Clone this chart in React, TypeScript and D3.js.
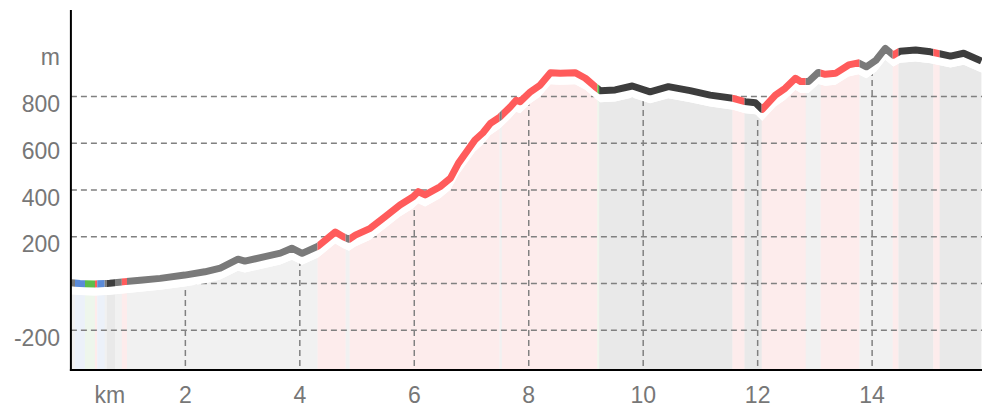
import React from "react";
import * as d3 from "d3";

// elevation profile (km, m)
const distKm = [
  0.0, 0.16, 0.42, 0.68, 0.95, 1.21, 1.56, 1.99, 2.34, 2.61, 2.92, 3.04, 3.39, 3.66, 3.86, 4.04,
  4.32, 4.62, 4.76, 4.86, 4.97, 5.23, 5.49, 5.75, 5.98, 6.07, 6.19, 6.45, 6.63, 6.77, 7.06, 7.2,
  7.33, 7.5, 7.68, 7.78, 7.85, 8.03, 8.2, 8.38, 8.55, 8.81, 8.99, 9.16, 9.25, 9.51, 9.81, 10.12, 10.44,
  10.82, 11.17, 11.57, 11.78, 11.96, 12.08, 12.31, 12.48, 12.66, 12.75, 12.89, 13.06, 13.18, 13.36,
  13.59, 13.76, 13.9, 14.07, 14.23, 14.37, 14.49, 14.76, 15.02, 15.37, 15.6, 15.91,
];
const elevM = [
  3, 0, -2, 1, 8, 14, 22, 36, 50, 66, 104, 96, 115, 130, 151, 129,
  160, 220, 200, 189, 207, 236, 286, 336, 371, 393, 379, 414, 450, 514, 614, 645,
  685, 713, 756, 784, 778, 820, 849, 902, 899, 902, 878, 842, 825, 828, 845, 820, 842,
  825, 806, 792, 778, 773, 745, 806, 835, 878, 864, 864, 903, 895, 899,
  935, 944, 927, 956, 1006, 977, 994, 999, 991, 973, 985, 952,
];

// surface segments
const surfaceBreaks = [
  0, 0.07, 0.245, 0.42, 0.46, 0.59, 0.63, 0.77, 0.89, 0.98, 4.31, 4.8, 4.87, 7.49, 7.53, 9.2,
  9.23, 11.56, 11.77, 12.07, 12.84, 13.1, 13.78, 14.36, 14.46, 15.07, 15.18, 15.92,
];
const surfaceTypes = [
  "gray", "blue", "green", "red", "blue", "gray", "dark", "gray", "red", "gray", "red", "gray",
  "red", "gray", "red", "green", "dark", "red", "dark", "red", "gray", "red", "gray", "red",
  "dark", "red", "dark",
];

const yTicks = [-200, 0, 200, 400, 600, 800];
const yLabels = ["-200", "", "200", "400", "600", "800"];
const xTicks = [2, 4, 6, 8, 10, 12, 14];
const unitY = "m";
const unitX = "km";

const lineColor: Record<string, string> = {
  red: "#ff5b5b",
  dark: "#3d3d3d",
  gray: "#7a7a7a",
  blue: "#5b8bd8",
  green: "#5cbd4a",
};
const bandColor: Record<string, string> = {
  red: "#fdecec",
  dark: "#e9e9e9",
  gray: "#f1f1f1",
  blue: "#ecf1f9",
  green: "#eef6ec",
};

export default function App() {
  const W = 985;
  const H = 408;
  const left = 70.9;
  const right = 982;
  const top = 10;
  const bottom = 370;

  const x = d3.scaleLinear().domain([0, 15.92]).range([left, right]);
  const y = d3.scaleLinear().domain([-370, 1170]).range([bottom, top]);

  const pts = distKm.map((d, i) => [d, elevM[i]] as [number, number]);
  const offset = 11.5;

  const line = d3
    .line<[number, number]>()
    .x((d) => x(d[0]))
    .y((d) => y(d[1]))
    .curve(d3.curveLinear);
  const area = d3
    .area<[number, number]>()
    .x((d) => x(d[0]))
    .y0(bottom)
    .y1((d) => y(d[1]) + offset)
    .curve(d3.curveLinear);
  const whiteBand = d3
    .area<[number, number]>()
    .x((d) => x(d[0]))
    .y0((d) => y(d[1]) + offset)
    .y1((d) => y(d[1]) - 2)
    .curve(d3.curveLinear);

  const segs = surfaceTypes.map((t, i) => ({
    t,
    x0: x(surfaceBreaks[i]),
    x1: x(surfaceBreaks[i + 1]),
  }));

  const font = "'Liberation Sans', Arial, sans-serif";
  const labelColor = "#777";
  const gridColor = "#808080";

  return (
    <svg
      width={W}
      height={H}
      style={{ position: "fixed", left: 0, top: 0, display: "block", background: "#fff" }}
    >
      <defs>
        <clipPath id="areaClip">
          <path d={area(pts) || ""} />
        </clipPath>
        {segs.map((s, i) => (
          <clipPath id={`seg${i}`} key={i}>
            <rect x={s.x0} y={0} width={Math.max(0, s.x1 - s.x0)} height={H} />
          </clipPath>
        ))}
      </defs>

      {/* surface bands under the profile */}
      <g clipPath="url(#areaClip)">
        {segs.map((s, i) => (
          <rect
            key={i}
            x={s.x0}
            y={top}
            width={Math.max(0, s.x1 - s.x0) + 0.3}
            height={bottom - top}
            fill={bandColor[s.t]}
          />
        ))}
        {xTicks.map((v) => (
          <line
            key={v}
            x1={x(v)}
            x2={x(v)}
            y1={top}
            y2={bottom}
            stroke={gridColor}
            strokeWidth={1.5}
            strokeDasharray="6,4"
          />
        ))}
      </g>

      {/* horizontal grid */}
      {yTicks.map((v) => (
        <line
          key={v}
          x1={left}
          x2={right}
          y1={y(v)}
          y2={y(v)}
          stroke={gridColor}
          strokeWidth={1.5}
          strokeDasharray="6,4"
        />
      ))}

      {/* white halo below the profile line */}
      <path d={whiteBand(pts) || ""} fill="#fff" />

      {/* coloured profile line */}
      {segs.map((s, i) => (
        <path
          key={i}
          d={line(pts) || ""}
          fill="none"
          stroke={lineColor[s.t]}
          strokeWidth={7}
          strokeLinejoin="round"
          clipPath={`url(#seg${i})`}
        />
      ))}

      {/* axes */}
      <line x1={left} x2={left} y1={top} y2={bottom + 1} stroke="#000" strokeWidth={2} />
      <line x1={left - 1} x2={right} y1={bottom} y2={bottom} stroke="#000" strokeWidth={2} />

      {/* y labels */}
      {yTicks.map((v, i) =>
        yLabels[i] ? (
          <text
            key={v}
            x={60}
            y={y(v) + 15.5}
            textAnchor="end"
            fontFamily={font}
            fontSize={23}
            fill={labelColor}
          >
            {yLabels[i]}
          </text>
        ) : null
      )}
      <text x={60} y={y(1000) + 15.5} textAnchor="end" fontFamily={font} fontSize={23} fill={labelColor}>
        {unitY}
      </text>

      {/* x labels */}
      {xTicks.map((v) => (
        <text
          key={v}
          x={x(v)}
          y={403}
          textAnchor="middle"
          fontFamily={font}
          fontSize={23}
          fill={labelColor}
        >
          {v}
        </text>
      ))}
      <text x={x(0) + 39} y={403} textAnchor="middle" fontFamily={font} fontSize={23} fill={labelColor}>
        {unitX}
      </text>
    </svg>
  );
}
